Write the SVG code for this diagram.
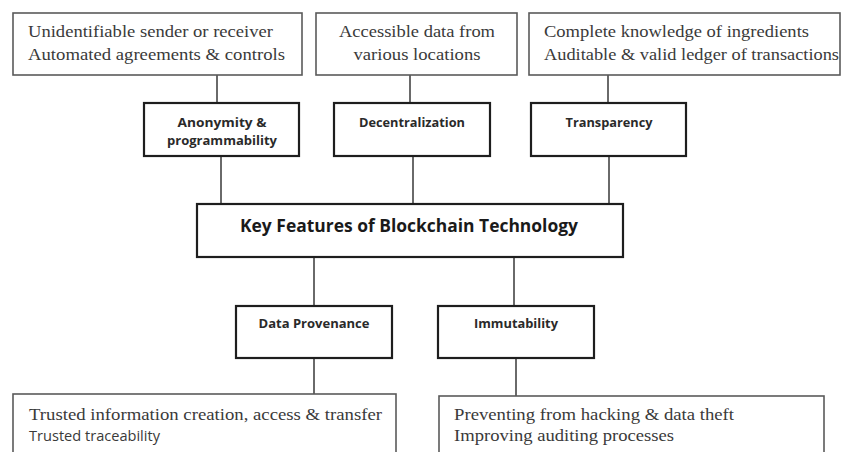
<svg xmlns="http://www.w3.org/2000/svg" width="844" height="452" viewBox="0 0 844 452">
  <style>
    .note { fill: #ffffff; stroke: #5a5a5a; stroke-width: 1.6; }
    .feat { fill: #ffffff; stroke: #1e1e1e; stroke-width: 2.2; }
    .serif { font-family: "Liberation Serif", "DejaVu Serif", serif; font-size: 16.5px; fill: #3a3a3a; }
    .sans { font-family: "Open Sans", "Liberation Sans", sans-serif; font-size: 12px; font-weight: bold; fill: #2a2a2a; }
    .sansplain { font-family: "Open Sans", "Liberation Sans", sans-serif; font-size: 14px; fill: #3a3a3a; }
    .title { font-family: "Open Sans", "Liberation Sans", sans-serif; font-size: 18px; font-weight: bold; fill: #1a1a1a; }
    .link { stroke: #6a6a6a; stroke-width: 2; fill: none; }
  </style>
  <rect width="844" height="452" fill="#ffffff"/>

  <!-- connectors -->
  <g id="connectors">
    <line class="link" x1="217" y1="75" x2="217" y2="103"/>
    <line class="link" x1="221" y1="156" x2="221" y2="204"/>
    <line class="link" x1="410" y1="75" x2="410" y2="103"/>
    <line class="link" x1="413" y1="156" x2="413" y2="204"/>
    <line class="link" x1="608" y1="75" x2="608" y2="103"/>
    <line class="link" x1="609" y1="156" x2="609" y2="204"/>
    <line class="link" x1="314" y1="257" x2="314" y2="306"/>
    <line class="link" x1="514" y1="257" x2="514" y2="306"/>
    <line class="link" x1="314" y1="358" x2="314" y2="394"/>
    <line class="link" x1="516" y1="358" x2="516" y2="396"/>
  </g>

  <!-- top notes -->
  <g id="note-anonymity">
    <rect class="note" x="13" y="13" width="289" height="62"/>
    <text class="serif" x="28" y="37" textLength="245" lengthAdjust="spacingAndGlyphs">Unidentifiable sender or receiver</text>
    <text class="serif" x="28" y="60" textLength="257" lengthAdjust="spacingAndGlyphs">Automated agreements &amp; controls</text>
  </g>
  <g id="note-decentralization">
    <rect class="note" x="316" y="13" width="201" height="62"/>
    <text class="serif" x="417" y="37" text-anchor="middle" textLength="156" lengthAdjust="spacingAndGlyphs">Accessible data from</text>
    <text class="serif" x="417" y="60" text-anchor="middle" textLength="127" lengthAdjust="spacingAndGlyphs">various locations</text>
  </g>
  <g id="note-transparency">
    <rect class="note" x="529" y="13" width="311" height="62"/>
    <text class="serif" x="544" y="37" textLength="265" lengthAdjust="spacingAndGlyphs">Complete knowledge of ingredients</text>
    <text class="serif" x="544" y="60" textLength="295" lengthAdjust="spacingAndGlyphs">Auditable &amp; valid ledger of transactions</text>
  </g>

  <!-- feature boxes -->
  <g id="feature-anonymity">
    <rect class="feat" x="144" y="103" width="155" height="53"/>
    <text class="sans" x="222" y="127" text-anchor="middle" textLength="89" lengthAdjust="spacingAndGlyphs">Anonymity &amp;</text>
    <text class="sans" x="222" y="145" text-anchor="middle" textLength="110" lengthAdjust="spacingAndGlyphs">programmability</text>
  </g>
  <g id="feature-decentralization">
    <rect class="feat" x="334" y="103" width="156" height="53"/>
    <text class="sans" x="412" y="127" text-anchor="middle" textLength="106" lengthAdjust="spacingAndGlyphs">Decentralization</text>
  </g>
  <g id="feature-transparency">
    <rect class="feat" x="531" y="103" width="155" height="53"/>
    <text class="sans" x="609" y="127" text-anchor="middle" textLength="87" lengthAdjust="spacingAndGlyphs">Transparency</text>
  </g>

  <!-- central box -->
  <g id="key-features">
    <rect class="feat" x="197" y="204" width="426" height="53"/>
    <text class="title" x="409" y="232" text-anchor="middle" textLength="338" lengthAdjust="spacingAndGlyphs">Key Features of Blockchain Technology</text>
  </g>

  <!-- lower feature boxes -->
  <g id="feature-provenance">
    <rect class="feat" x="236" y="306" width="156" height="52"/>
    <text class="sans" x="314" y="328" text-anchor="middle" textLength="111" lengthAdjust="spacingAndGlyphs">Data Provenance</text>
  </g>
  <g id="feature-immutability">
    <rect class="feat" x="438" y="306" width="156" height="52"/>
    <text class="sans" x="516" y="328" text-anchor="middle" textLength="84" lengthAdjust="spacingAndGlyphs">Immutability</text>
  </g>

  <!-- bottom notes -->
  <g id="note-provenance">
    <rect class="note" x="13" y="394" width="383" height="70"/>
    <text class="serif" x="29" y="420" textLength="353" lengthAdjust="spacingAndGlyphs">Trusted information creation, access &amp; transfer</text>
    <text class="sansplain" x="29" y="441" textLength="131" lengthAdjust="spacingAndGlyphs">Trusted traceability</text>
  </g>
  <g id="note-immutability">
    <rect class="note" x="439" y="396" width="385" height="70"/>
    <text class="serif" x="454" y="420" textLength="280" lengthAdjust="spacingAndGlyphs">Preventing from hacking &amp; data theft</text>
    <text class="serif" x="454" y="441" textLength="220" lengthAdjust="spacingAndGlyphs">Improving auditing processes</text>
  </g>
</svg>
